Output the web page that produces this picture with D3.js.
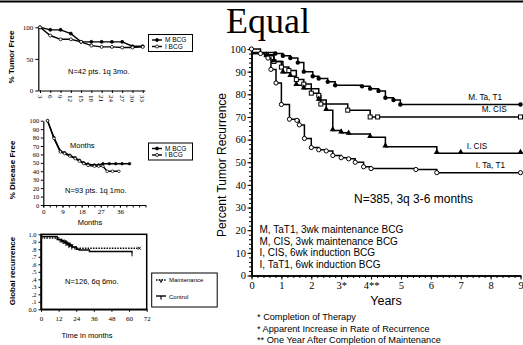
<!DOCTYPE html>
<html><head><meta charset="utf-8">
<script src="https://cdn.jsdelivr.net/npm/d3@7"></script>
<style>body{margin:0;background:#fff}svg{display:block}</style>
</head><body>
<svg id="c" width="523" height="345"></svg>
<script>
// ---------- DATA ----------
// Big chart (years, percent)
const bigXTickValues = [0,1,2,3,4,5,6,7,8,9];
const bigXTickLabels = ["0","1","2","3*","4**","5","6","7","8","9"];
const bigYTickValues = [0,10,20,30,40,50,60,70,80,90,100];
const mTaT1 = [[0,98.5],[0.8,98],[1.05,97],[1.3,96],[1.55,94],[1.75,90],[2.05,88],[2.25,87],[2.55,85.5],[2.8,84],[3.7,83.5],[3.97,82.5],[4.25,81.5],[4.48,78.5],[4.75,77.5],[4.98,75.5],[9,75.5]];
const mCIS = [[0,98],[0.5,97.5],[0.75,94.5],[1.0,92],[1.25,90.5],[1.5,86.5],[1.75,84.5],[2.0,80.5],[2.25,79.5],[2.32,75.7],[3.22,73],[3.97,70],[4.22,70],[9,70]];
const iCIS = [[0,98],[0.5,97],[0.75,94.5],[1.05,89.5],[1.3,88],[1.5,84],[1.75,82.5],[2.25,77.5],[2.5,73],[2.72,64],[3.0,63],[3.25,62.5],[3.97,61],[4.48,56.8],[6.2,54],[7.0,54],[9,54]];
const iTaT1 = [[0,100],[0.3,98],[0.55,96],[0.65,91],[0.82,85],[1.0,75.5],[1.27,69],[1.52,68.5],[1.6,66.5],[1.77,60.5],[2.0,56.5],[2.25,55.5],[2.5,55],[2.72,53],[3.0,52],[3.25,51.5],[3.47,50],[3.75,48],[4.0,47.2],[5.5,46.8],[6.2,45.4],[9,45.4]];
const seriesLabels = ["M. Ta, T1","M. CIS","I. CIS","I. Ta, T1"];
const legendLines = ["M, TaT1, 3wk maintenance BCG","M, CIS, 3wk maintenance BCG","I, CIS, 6wk induction BCG","I, TaT1, 6wk induction BCG"];
const footnotes = ["* Completion of Therapy","* Apparent Increase in Rate of Recurrence","** One Year After Completion of Maintenance"];

// Chart 1 (months, % tumor free)
const months1 = [3,6,9,12,15,18,21,24,27,30,33];
const mBCG1 = [100,96,96,90,77,77,77,77,77,70,70];
const iBCG1 = [100,87,81,81,77,71,69,69,68,68,69];
const yTicks1 = [0,50,100];

// Chart 2 (months, % disease free)
const mBCG2 = [[2,100],[5,80],[8,64],[10,62],[12.5,59],[15,56],[17,53],[19,50],[21,48.5],[24,47.5],[26,47.5],[28,49],[31,49],[34,49],[37,49],[40.5,49]];
const iBCG2 = [[2,100],[5,79],[8,63],[10,61],[12.5,58],[15,55],[17,52],[19,49],[21,47],[24,46],[26,46],[28,46],[30,40],[32.5,40],[35.5,40]];
const xTickLabels2 = [0,9,18,27,36];
const yTicks2 = [0,10,20,30,40,50,60,70,80,90,100];

// Chart 3 (months, global recurrence)
const maint3 = [[0,0.95],[10,0.95],[12,0.93],[14,0.91],[16,0.89],[18,0.87],[20,0.85],[22,0.83],[24,0.815],[67,0.815]];
const control3 = [[0,0.97],[10,0.97],[11,0.93],[14,0.91],[17,0.88],[19,0.85],[21,0.83],[24,0.80],[26,0.79],[33,0.77],[60,0.77],[62,0.74]];
const maintMarks3 = [14,15,16,17,18,19,20,21,67];
const controlMarks3 = [13,15,17,19,21,23,62];
const xTicks3 = [0,12,24,36,48,60,72];
const yTicks3 = [0,0.1,0.2,0.3,0.4,0.5,0.6,0.7,0.8,0.9,1.0];
const yTickLabels3 = ["0.0",".1",".2",".3",".4",".5",".6",".7",".8",".9","1.0"];

// ---------- DRAW ----------
const svg = d3.select("#c");
const SANS = "'Liberation Sans', Arial, sans-serif";
const SERIF = "'Liberation Serif', 'Times New Roman', serif";

svg.append("rect").attr("width",523).attr("height",345).attr("fill","#fff");
svg.append("line").attr("x1",0).attr("x2",523).attr("y1",1.5).attr("y2",1.5).attr("stroke","#000").attr("stroke-width",2.2);

function styleAxis(g, font, size, sw){
  g.selectAll("path.domain").attr("stroke","#000").attr("stroke-width",sw);
  g.selectAll("line").attr("stroke","#000").attr("stroke-width",1);
  g.selectAll("text").attr("font-family",font).attr("font-size",size).attr("fill","#000");
}

// ===== Big chart =====
const xB = d3.scaleLinear().domain([0,9]).range([251.5,520.5]);
const yB = d3.scaleLinear().domain([0,100]).range([275.5,49]);

svg.append("text").attr("x",226).attr("y",33).attr("font-family",SERIF).attr("font-size",36).text("Equal");

const gyMinor = svg.append("g").attr("transform",`translate(${xB(0)},0)`)
  .call(d3.axisLeft(yB).tickValues(d3.range(0,101,2)).tickSize(2.5).tickFormat("").tickSizeOuter(0));
styleAxis(gyMinor, SERIF, 10.5, 1.5);
const gy = svg.append("g").attr("transform",`translate(${xB(0)},0)`)
  .call(d3.axisLeft(yB).tickValues(bigYTickValues).tickSize(4).tickPadding(1.5).tickSizeOuter(0));
styleAxis(gy, SERIF, 10.5, 1.5);

const gxMinor = svg.append("g").attr("transform",`translate(0,${yB(0)})`)
  .call(d3.axisBottom(xB).tickValues(d3.range(0,9.01,0.2)).tickSize(2.5).tickFormat("").tickSizeOuter(0));
styleAxis(gxMinor, SERIF, 10.5, 1.5);
const gx = svg.append("g").attr("transform",`translate(0,${yB(0)})`)
  .call(d3.axisBottom(xB).tickValues(bigXTickValues).tickFormat((d,i)=>bigXTickLabels[i]).tickSize(4).tickPadding(2).tickSizeOuter(0));
styleAxis(gx, SERIF, 10.5, 1.5);

svg.append("text").attr("transform",`translate(226,165) rotate(-90)`).attr("text-anchor","middle")
  .attr("font-family",SANS).attr("font-size",12).text("Percent Tumor Recurrence");
svg.append("text").attr("x",xB(4.5)).attr("y",304.5).attr("text-anchor","middle")
  .attr("font-family",SANS).attr("font-size",12.5).text("Years");

const stepLine = d3.line().x(d=>xB(d[0])).y(d=>yB(d[1])).curve(d3.curveStepAfter);
const bigSeries = [mTaT1, mCIS, iCIS, iTaT1];
bigSeries.forEach(s=>{
  svg.append("path").attr("d",stepLine(s)).attr("fill","none").attr("stroke","#000").attr("stroke-width",1.5);
});
function markers(data, type, skipFirst){
  const pts = skipFirst ? data.slice(1) : data;
  const g = svg.append("g");
  pts.forEach(d=>{
    const x = xB(d[0]), y = yB(d[1]);
    if(type==="fc") g.append("circle").attr("cx",x).attr("cy",y).attr("r",2.2).attr("fill","#000");
    if(type==="oc") g.append("circle").attr("cx",x).attr("cy",y).attr("r",2.1).attr("fill","#fff").attr("stroke","#000").attr("stroke-width",1);
    if(type==="os") g.append("rect").attr("x",x-2).attr("y",y-2).attr("width",4).attr("height",4).attr("fill","#fff").attr("stroke","#000").attr("stroke-width",1);
    if(type==="ft") g.append("path").attr("transform",`translate(${x},${y-1})`).attr("d",d3.symbol(d3.symbolTriangle,16)()).attr("fill","#000");
  });
}
markers(mTaT1,"fc",true);
markers(mCIS,"os",true);
markers(iCIS,"ft",true);
markers(iTaT1,"oc",false);

const labelPos = [[7.25,77.5],[7.7,72.2],[7.2,55.8],[7.5,47.6]];
seriesLabels.forEach((t,i)=>{
  svg.append("text").attr("x",xB(labelPos[i][0])).attr("y",yB(labelPos[i][1])).attr("font-family",SANS).attr("font-size",8.2).text(t);
});

svg.append("text").attr("x",xB(3.43)).attr("y",203).attr("font-family",SANS).attr("font-size",12).text("N=385, 3q 3-6 months");
legendLines.forEach((t,i)=>{
  svg.append("text").attr("x",259.5).attr("y",233+i*11.6).attr("font-family",SANS).attr("font-size",10).text(t);
});
footnotes.forEach((t,i)=>{
  svg.append("text").attr("x",257).attr("y",320+i*11.5).attr("font-family",SANS).attr("font-size",9.2).text(t);
});

// ===== Chart 1 =====
const x1 = d3.scaleLinear().domain([2.5,33.6]).range([38.3,144.8]);
const y1 = d3.scaleLinear().domain([0,100]).range([90.5,27.3]);
const g1y = svg.append("g").attr("transform",`translate(${x1(2.5)},0)`)
  .call(d3.axisLeft(y1).tickValues(yTicks1).tickSize(3).tickPadding(2).tickSizeOuter(0));
styleAxis(g1y, SERIF, 7, 1.2);
const g1x = svg.append("g").attr("transform",`translate(0,${y1(0)})`)
  .call(d3.axisBottom(x1).tickValues(months1).tickSize(2.5).tickFormat("").tickSizeOuter(0));
styleAxis(g1x, SERIF, 7, 1.2);
months1.forEach(m=>{
  svg.append("text").attr("transform",`translate(${x1(m)},95) rotate(90)`).attr("text-anchor","start")
    .attr("dy","0.35em").attr("font-family",SERIF).attr("font-size",7).text(m);
});
const line1 = d3.line().x((d,i)=>x1(months1[i])).y(d=>y1(d));
[[mBCG1,true],[iBCG1,false]].forEach(([s,filled])=>{
  svg.append("path").attr("d",line1(s)).attr("fill","none").attr("stroke","#000").attr("stroke-width",1.4);
  s.forEach((v,i)=>svg.append("circle").attr("cx",x1(months1[i])).attr("cy",y1(v)).attr("r",1.5)
     .attr("fill",filled?"#000":"#fff").attr("stroke","#000").attr("stroke-width",0.8));
});
svg.append("text").attr("transform","translate(14,57) rotate(-90)").attr("text-anchor","middle")
  .attr("font-family",SANS).attr("font-weight","bold").attr("font-size",8).text("% Tumor Free");
svg.append("text").attr("x",68).attr("y",73.5).attr("font-family",SANS).attr("font-size",7.5).text("N=42 pts. 1q 3mo.");

function legend2(y0, labels){
  svg.append("rect").attr("x",148.5).attr("y",y0).attr("width",44).attr("height",17).attr("fill","#fff").attr("stroke","#000").attr("stroke-width",1);
  labels.forEach((t,i)=>{
    const yy = y0+5.5+i*6.5;
    svg.append("line").attr("x1",152).attr("x2",162).attr("y1",yy).attr("y2",yy).attr("stroke","#000").attr("stroke-width",1.4);
    svg.append("circle").attr("cx",157).attr("cy",yy).attr("r",1.5).attr("fill",i===0?"#000":"#fff").attr("stroke","#000").attr("stroke-width",0.8);
    svg.append("text").attr("x",165).attr("y",yy+2.3).attr("font-family",SANS).attr("font-size",6.5).text(t);
  });
}
legend2(34.5,["M BCG","I BCG"]);

// ===== Chart 2 =====
const x2 = d3.scaleLinear().domain([0,48]).range([43.3,145.5]);
const y2 = d3.scaleLinear().domain([0,100]).range([205,120.7]);
const g2y = svg.append("g").attr("transform",`translate(${x2(0)},0)`)
  .call(d3.axisLeft(y2).tickValues(yTicks2).tickSize(2.5).tickPadding(1.5).tickSizeOuter(0));
styleAxis(g2y, SERIF, 6.5, 1.2);
const g2x = svg.append("g").attr("transform",`translate(0,${y2(0)})`)
  .call(d3.axisBottom(x2).tickValues(d3.range(0,49,3)).tickSize(2.5).tickFormat("").tickSizeOuter(0));
styleAxis(g2x, SERIF, 6.5, 1.2);
const g2xl = svg.append("g").attr("transform",`translate(0,${y2(0)})`)
  .call(d3.axisBottom(x2).tickValues(xTickLabels2).tickSize(2.5).tickPadding(2).tickSizeOuter(0));
g2xl.select("path.domain").remove();
styleAxis(g2xl, SERIF, 7, 1.2);
const line2 = d3.line().x(d=>x2(d[0])).y(d=>y2(d[1]));
[[mBCG2,true],[iBCG2,false]].forEach(([s,filled])=>{
  svg.append("path").attr("d",line2(s)).attr("fill","none").attr("stroke","#000").attr("stroke-width",1.4);
  s.forEach(d=>svg.append("circle").attr("cx",x2(d[0])).attr("cy",y2(d[1])).attr("r",1.3)
     .attr("fill",filled?"#000":"#fff").attr("stroke","#000").attr("stroke-width",0.7));
});
svg.append("text").attr("transform","translate(15,170) rotate(-90)").attr("text-anchor","middle")
  .attr("font-family",SANS).attr("font-weight","bold").attr("font-size",8).text("% Disease Free");
svg.append("text").attr("x",70).attr("y",147.5).attr("font-family",SANS).attr("font-size",7.5).text("Months");
svg.append("text").attr("x",90).attr("y",224.5).attr("text-anchor","middle").attr("font-family",SANS).attr("font-size",7.5).text("Months");
svg.append("text").attr("x",65).attr("y",193).attr("font-family",SANS).attr("font-size",7.5).text("N=93 pts. 1q 1mo.");
legend2(143,["M BCG","I BCG"]);

// ===== Chart 3 =====
const x3 = d3.scaleLinear().domain([0,72]).range([41,146.7]);
const y3 = d3.scaleLinear().domain([0,1]).range([309.3,234.3]);
svg.append("rect").attr("x",x3(0)).attr("y",y3(1)).attr("width",x3(72)-x3(0)).attr("height",y3(0)-y3(1))
  .attr("fill","none").attr("stroke","#000").attr("stroke-width",1.5);
const g3y = svg.append("g").attr("transform",`translate(${x3(0)},0)`)
  .call(d3.axisLeft(y3).tickValues(yTicks3).tickFormat((d,i)=>yTickLabels3[i]).tickSize(2.5).tickPadding(2).tickSizeOuter(0));
styleAxis(g3y, SERIF, 6.5, 1.5);
const g3x = svg.append("g").attr("transform",`translate(0,${y3(0)})`)
  .call(d3.axisBottom(x3).tickValues(xTicks3).tickSize(2.5).tickPadding(4).tickSizeOuter(0));
styleAxis(g3x, SERIF, 7, 1.5);
const step3 = d3.line().x(d=>x3(d[0])).y(d=>y3(d[1])).curve(d3.curveStepAfter);
svg.append("path").attr("d",step3(control3)).attr("fill","none").attr("stroke","#000").attr("stroke-width",1.4);
svg.append("path").attr("d",step3(maint3)).attr("fill","none").attr("stroke","#000").attr("stroke-width",1.4).attr("stroke-dasharray","1.5,1.2");
function valAt(data,t){let v=data[0][1];data.forEach(d=>{if(d[0]<=t)v=d[1];});return v;}
maintMarks3.forEach(t=>{
  const x=x3(t), y=y3(valAt(maint3,t));
  svg.append("path").attr("d",`M${x-1.5},${y-1.5}L${x+1.5},${y+1.5}M${x+1.5},${y-1.5}L${x-1.5},${y+1.5}`).attr("stroke","#000").attr("stroke-width",0.9);
});
controlMarks3.forEach(t=>{
  const x=x3(t), y=y3(valAt(control3,t));
  svg.append("line").attr("x1",x).attr("x2",x).attr("y1",y).attr("y2",y+2.5).attr("stroke","#000").attr("stroke-width",1);
});
svg.append("text").attr("transform","translate(15,271) rotate(-90)").attr("text-anchor","middle")
  .attr("font-family",SANS).attr("font-weight","bold").attr("font-size",8).text("Global recurrence");
svg.append("text").attr("x",65).attr("y",283.5).attr("font-family",SANS).attr("font-size",7.5).text("N=126, 6q 6mo.");
svg.append("text").attr("x",87).attr("y",337.5).attr("text-anchor","middle").attr("font-family",SANS).attr("font-size",7.5).text("Time in months");
// legend 3
svg.append("rect").attr("x",151.7).attr("y",273).attr("width",65.5).attr("height",34).attr("fill","#fff").attr("stroke","#000").attr("stroke-width",1);
svg.append("line").attr("x1",156).attr("x2",166).attr("y1",280).attr("y2",280).attr("stroke","#000").attr("stroke-width",1.4).attr("stroke-dasharray","1.5,1.2");
svg.append("path").attr("d","M159.5,279L161,282.5L162.5,279").attr("fill","none").attr("stroke","#000").attr("stroke-width",0.9);
svg.append("text").attr("x",169).attr("y",282).attr("font-family",SANS).attr("font-size",6).text("Maintenance");
svg.append("line").attr("x1",156).attr("x2",166).attr("y1",296).attr("y2",296).attr("stroke","#000").attr("stroke-width",1.4);
svg.append("line").attr("x1",161).attr("x2",161).attr("y1",296).attr("y2",299.5).attr("stroke","#000").attr("stroke-width",1.2);
svg.append("text").attr("x",169).attr("y",298.5).attr("font-family",SANS).attr("font-size",6).text("Control");
</script>
</body></html>
